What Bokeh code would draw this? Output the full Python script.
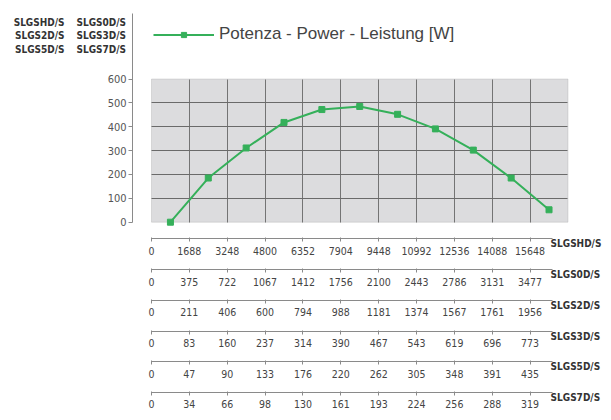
from bokeh.plotting import figure
from bokeh.models import (Range1d, LinearAxis, FixedTicker, Label, Legend,
                          LegendItem, Grid, BoxAnnotation)
from bokeh.embed import file_html
from bokeh.resources import INLINE
import numpy as np

# ---------------- data ----------------
power = [0, 185, 311, 418, 472, 485, 452, 391, 302, 185, 52]
y_ticks = [0, 100, 200, 300, 400, 500, 600]

models = ["SLGSHD/S", "SLGS0D/S", "SLGS2D/S", "SLGS3D/S", "SLGS5D/S", "SLGS7D/S"]
flow_slgshd = ["0", "1688", "3248", "4800", "6352", "7904", "9448", "10992", "12536", "14088", "15648"]
flow_slgs0d = ["0", "375", "722", "1067", "1412", "1756", "2100", "2443", "2786", "3131", "3477"]
flow_slgs2d = ["0", "211", "406", "600", "794", "988", "1181", "1374", "1567", "1761", "1956"]
flow_slgs3d = ["0", "83", "160", "237", "314", "390", "467", "543", "619", "696", "773"]
flow_slgs5d = ["0", "47", "90", "133", "176", "220", "262", "305", "348", "391", "435"]
flow_slgs7d = ["0", "34", "66", "98", "130", "161", "193", "224", "256", "288", "319"]
flows = [flow_slgshd, flow_slgs0d, flow_slgs2d, flow_slgs3d, flow_slgs5d, flow_slgs7d]

header_left = ["SLGSHD/S", "SLGS2D/S", "SLGS5D/S"]
header_right = ["SLGS0D/S", "SLGS3D/S", "SLGS7D/S"]
legend_label = "Potenza - Power - Leistung [W]"

# ---------------- layout (pixels) ----------------
W, H = 603, 412
GRID_LEFT, COL_W = 151.0, 37.86        # left edge of grey grid, column width
ZERO_Y, TOP_Y = 221.7, 78.5            # pixel rows of 0 and 600
Y_MAX = 600
ROW_PX = 30.7                          # spacing of the flow axes
FIRST_ROW = 238.4                      # pixel row of first flow axis

GREEN = "#35b05a"
TXT = "#444444"
NARROW = "DejaVu Sans Condensed, Liberation Sans, sans-serif"
REG = "Liberation Sans"

n_cols = len(flow_slgshd)
x_pos = np.arange(len(power)) + 0.5
py_per_unit = (ZERO_Y - TOP_Y) / Y_MAX

x_range = Range1d(-GRID_LEFT / COL_W, (W - GRID_LEFT) / COL_W)
y_range = Range1d((ZERO_Y - H) / py_per_unit, ZERO_Y / py_per_unit)
rows_range = Range1d((ZERO_Y - H) / ROW_PX, ZERO_Y / ROW_PX)

p = figure(width=W, height=H, output_backend="svg", toolbar_location=None,
           x_range=x_range, y_range=y_range,
           x_axis_type=None, y_axis_type=None,
           min_border_left=0, min_border_right=0,
           min_border_top=0, min_border_bottom=0)
p.extra_y_ranges = {"rows": rows_range}
p.background_fill_color = "white"
p.border_fill_color = "white"
p.outline_line_color = None

# grey plotting area
p.add_layout(BoxAnnotation(left=0, right=n_cols, bottom=0, top=Y_MAX,
                           fill_color="#dcdcde", fill_alpha=1,
                           line_color="#a0a0a0", line_width=1, level="underlay"))

# grid lines
xg_ticks = list(range(1, n_cols))
yg_ticks = y_ticks[1:-1]
if "cross_bounds" in Grid.properties():
    p.add_layout(Grid(dimension=0, ticker=FixedTicker(ticks=xg_ticks),
                      cross_bounds=(0, Y_MAX),
                      grid_line_color="#747474", grid_line_width=1))
    p.add_layout(Grid(dimension=1, ticker=FixedTicker(ticks=yg_ticks),
                      cross_bounds=(0, n_cols),
                      grid_line_color="#6a6a6a", grid_line_width=1))
else:
    p.segment(x0=xg_ticks, x1=xg_ticks, y0=0, y1=Y_MAX,
              line_color="#747474", line_width=1, level="underlay")
    p.segment(x0=0, x1=n_cols, y0=yg_ticks, y1=yg_ticks,
              line_color="#6a6a6a", line_width=1, level="underlay")

# data
line_r = p.line(x_pos, power, line_color=GREEN, line_width=2)
pts_r = p.scatter(x_pos, power, marker="square", size=6, fill_color=GREEN,
                  line_color=GREEN)

# y axis
y_top_bound = ZERO_Y / py_per_unit - 12.8 / py_per_unit
yax = LinearAxis(fixed_location=-0.5, ticker=FixedTicker(ticks=y_ticks),
                 bounds=(0, y_top_bound),
                 axis_line_color="#8a8a8a", major_tick_line_color="#8a8a8a",
                 major_tick_out=4, major_tick_in=0, minor_tick_out=0, minor_tick_in=0,
                 major_label_standoff=2,
                 major_label_text_font=NARROW, major_label_text_font_size="11px",
                 major_label_text_color="#555555")
p.add_layout(yax, "left")

# flow axes
first = (FIRST_ROW - ZERO_Y) / ROW_PX
for k, (name, labels) in enumerate(zip(models, flows)):
    loc = -(k + first)
    ax = LinearAxis(y_range_name="rows", fixed_location=loc,
                    ticker=FixedTicker(ticks=list(range(len(labels)))),
                    major_label_overrides={i: s for i, s in enumerate(labels)},
                    bounds=(0, 10.6),
                    axis_line_color="#8a8a8a", major_tick_line_color="#8a8a8a",
                    major_tick_out=3, major_tick_in=1,
                    minor_tick_out=0, minor_tick_in=0,
                    major_label_standoff=5,
                    major_label_text_font=NARROW, major_label_text_font_size="10.5px",
                    major_label_text_color=TXT)
    p.add_layout(ax, "below")
    p.add_layout(Label(x=10.54, y=loc - 5 / ROW_PX, y_range_name="rows", text=name,
                       text_align="left", text_baseline="middle",
                       text_font=NARROW, text_font_style="bold",
                       text_font_size="10px", text_color="#333333"))

# header model names (screen units, from bottom-left of canvas)
for i, (a, b) in enumerate(zip(header_left, header_right)):
    sy = H - (22.0 + 13.3 * i)
    p.add_layout(Label(x=64, y=sy, x_units="screen", y_units="screen", text=a,
                       text_align="right", text_baseline="middle",
                       text_font=NARROW, text_font_style="bold",
                       text_font_size="10px", text_color="#333333"))
    p.add_layout(Label(x=76, y=sy, x_units="screen", y_units="screen", text=b,
                       text_align="left", text_baseline="middle",
                       text_font=NARROW, text_font_style="bold",
                       text_font_size="10px", text_color="#333333"))

# legend (uses the real line + marker renderers for the swatch)
legend = Legend(items=[LegendItem(label=legend_label, renderers=[line_r, pts_r])],
                location=(153, 368), orientation="horizontal",
                glyph_width=61, glyph_height=13, label_height=13,
                label_standoff=5, padding=0, margin=0, spacing=0,
                border_line_alpha=0, background_fill_alpha=0,
                label_text_font=REG, label_text_font_size="17px",
                label_text_color=TXT, label_text_baseline="alphabetic")
p.add_layout(legend)

open("out.html", "w").write(file_html(p, INLINE))
